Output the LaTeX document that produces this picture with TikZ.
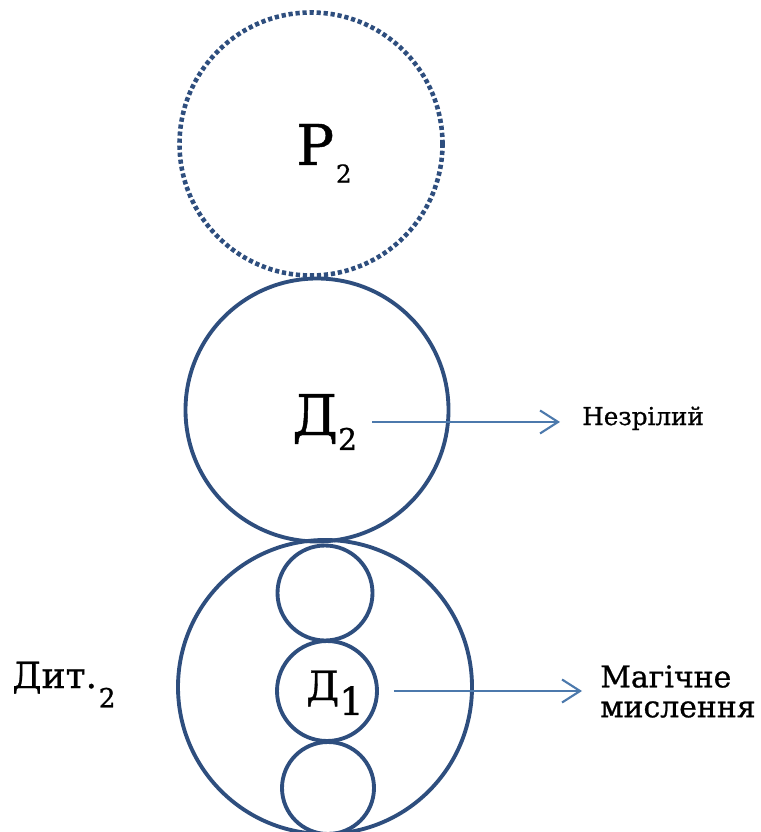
\documentclass[tikz,border=0pt]{standalone}
\usepackage{fontspec}
\setmainfont[FakeBold=0.8]{DejaVu Serif}
\usepackage{tikz}
\usetikzlibrary{arrows.meta}

\definecolor{ringblue}{HTML}{2E4E7E}
\definecolor{arrowblue}{HTML}{4C79AC}

\newcommand{\low}[3]{\raisebox{-#2}{\fontsize{#1}{#1}\selectfont #3}}

\begin{document}
\begin{tikzpicture}[
        ring/.style={circle, draw=ringblue, line width=2.2pt, inner sep=0pt, minimum size=#1},
        dotring/.style={ring=#1, line width=2.6pt, dash pattern=on 2.4pt off 1.6pt},
        lbl/.style={inner sep=0pt, anchor=base west},
        pointer/.style={draw=arrowblue, line width=1.2pt, -{Straight Barb[length=3.6mm, width=4.6mm, line width=1.2pt]}}
    ]
        \useasboundingbox (0,0) rectangle (15.2,-16.64);
        % circles
        \node [dotring=5.26cm] (p2) at (6.22,-2.88) {};
        \node [ring=5.26cm] (d2) at (6.34,-8.20) {};
        \node [ring=5.88cm] (dit) at (6.50,-13.74) {};
        \node [ring=1.90cm] (top) at (6.50,-11.86) {};
        \node [ring=2.00cm] (d1) at (6.54,-13.82) {};
        \node [ring=1.84cm] (bot) at (6.56,-15.76) {};
        % labels
        \node [lbl] (p2lbl) at (5.92,-3.30) {\fontsize{32}{32}\selectfont Р\kern1pt\low{14}{10pt}{2}};
        \node [lbl] (d2lbl) at (5.84,-8.70) {\fontsize{32}{32}\selectfont Д\low{17}{8.5pt}{2}};
        \node [lbl] (d1lbl) at (6.12,-14.00) {\fontsize{23}{23}\selectfont Д\low{22}{8.5pt}{1}};
        \node [lbl] (ditlbl) at (0.24,-13.76) {\fontsize{20.5}{20.5}\selectfont Дит.\kern1pt\low{15}{11pt}{2}};
        \node [lbl] (nezr) at (11.64,-8.50) {\fontsize{14}{14}\selectfont Незрілий};
        \node [inner sep=0pt, anchor=north west, align=left, font={\fontsize{17}{17}\selectfont}] (magic) at (12.00,-13.30)
            {Магічне\\мислення};
        % arrows
        \draw [pointer, shorten <=0.30cm, shorten >=0.44cm] (d2lbl.east) -- (d2lbl.east -| nezr.west);
        \draw [pointer, shorten <=0.30cm, shorten >=0.36cm] (d1.east) -- (d1.east -| magic.west);
    \end{tikzpicture}
\end{document}
